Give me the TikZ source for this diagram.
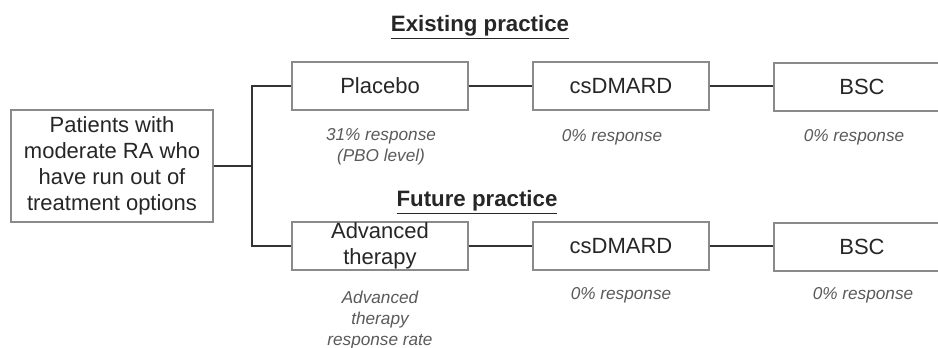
\documentclass[tikz,border=0pt]{standalone}
\usepackage{fontspec}
\setmainfont{Liberation Sans}
\definecolor{boxline}{HTML}{8A8A8A}
\definecolor{link}{HTML}{333333}
\definecolor{note}{HTML}{5A5A5A}
\begin{document}
\begin{tikzpicture}[x=0.75pt,y=-0.75pt,
  every node/.style={font=\fontsize{16.5}{19.6}\selectfont,text=black!85},
  arm/.style={draw=boxline,line width=1pt,minimum width=132pt,minimum height=36pt,inner sep=0pt,align=center},
  resp/.style={font=\fontsize{12.9}{15.8}\selectfont\itshape,text=note,align=center},
  head/.style={font=\fontsize{16.7}{20}\selectfont\bfseries,text=black!85}]
\useasboundingbox (0,0) rectangle (938,347);
\clip (0,0) rectangle (938,347);
\node[head] (existing) at (480,27) {\underline{Existing practice}};
\node[head] (future) at (477,202) {\underline{Future practice}};
\node[arm,minimum width=151.5pt,minimum height=84pt] (patients) at (112,166)
  {Patients with\\ moderate RA who\\ have run out of\\ treatment options};
% existing practice
\node[arm] (placebo) at (380,86) {Placebo};
\node[arm] (csdmardA) at (621,86) {csDMARD};
\node[arm] (bscA) at (862,87) {BSC};
\node[resp] (placeboResp) at (381,147) {31\% response\\ (PBO level)};
\node[resp] (csdmardAResp) at (612,137) {0\% response};
\node[resp] (bscAResp) at (854,137) {0\% response};
% future practice
\node[arm] (advanced) at (380,246) {Advanced\\ therapy};
\node[arm] (csdmardB) at (621,246) {csDMARD};
\node[arm] (bscB) at (862,247) {BSC};
\node[resp] (advancedResp) at (380,320) {Advanced\\ therapy\\ response rate};
\node[resp] (csdmardBResp) at (621,295) {0\% response};
\node[resp] (bscBResp) at (863,295) {0\% response};
\coordinate (split) at (252,166);
\draw[link,line width=1.1pt] (patients.east) -- (split) |- (placebo.west);
\draw[link,line width=1.1pt] (split) |- (advanced.west);
\draw[link,line width=1pt] (placebo) -- (csdmardA);
\draw[link,line width=1pt] (csdmardA) -- (bscA.west|-csdmardA);
\draw[link,line width=1pt] (advanced) -- (csdmardB);
\draw[link,line width=1pt] (csdmardB) -- (bscB.west|-csdmardB);
\end{tikzpicture}
\end{document}
